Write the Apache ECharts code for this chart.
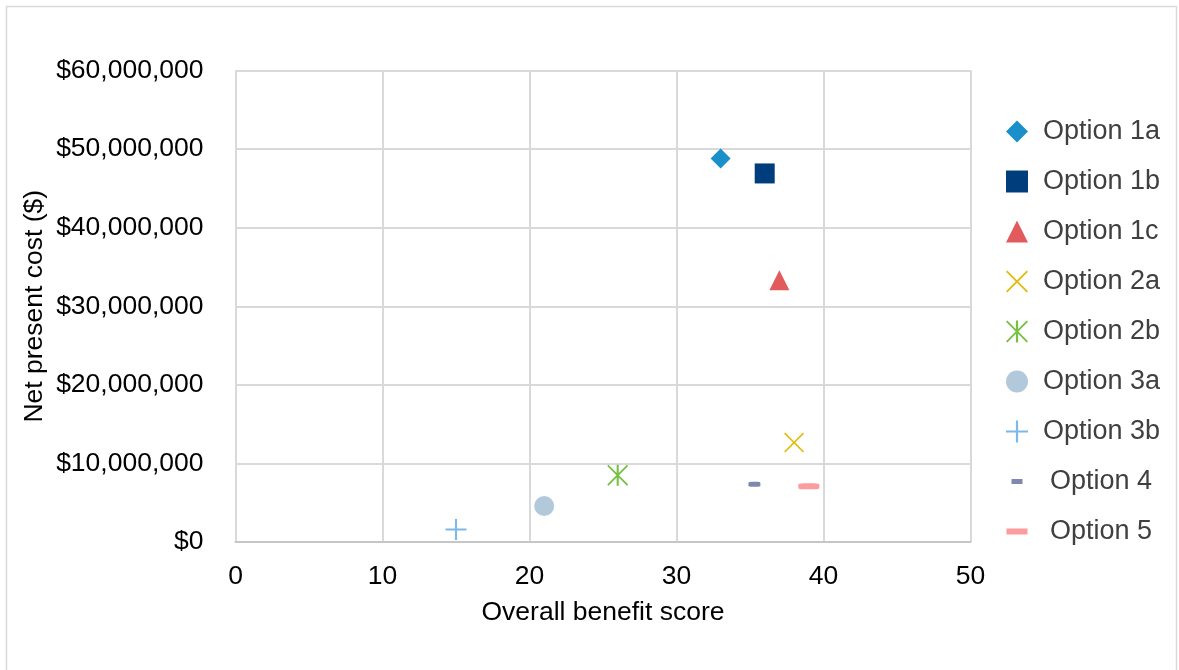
<!DOCTYPE html>
<html>
<head>
<meta charset="utf-8">
<script src="https://cdn.jsdelivr.net/npm/echarts@6/dist/echarts.min.js"></script>
<style>
  html, body { margin: 0; padding: 0; background: #fff; }
  #chart { width: 1179px; height: 670px; }
</style>
</head>
<body>
<div id="chart"></div>
<script>
// ---- Data ----
const seriesNames = ['Option 1a', 'Option 1b', 'Option 1c', 'Option 2a', 'Option 2b', 'Option 3a', 'Option 3b', 'Option 4', 'Option 5'];
const benefitScores = [33, 36, 37, 38, 26, 21, 15, 35.3, 39];
const netPresentCosts = [48800000, 46900000, 33300000, 12650000, 8500000, 4580000, 1600000, 7350000, 7100000];
const xTicks = [0, 10, 20, 30, 40, 50];
const yTicks = [0, 10000000, 20000000, 30000000, 40000000, 50000000, 60000000];

// ---- Styles ----
const colors = ['#1a8fca', '#003d7c', '#e35a5c', '#e0bd0c', '#76c043', '#b2c9dc', '#7cb9e8', '#7f88ad', '#fd9b9e'];
const PATH_X = 'path://M0,6 L6,0 L50,44 L94,0 L100,6 L56,50 L100,94 L94,100 L50,56 L6,100 L0,94 L44,50 Z';
const PATH_AST = 'path://M0,6 L6,0 L50,44 L94,0 L100,6 L56,50 L100,94 L94,100 L50,56 L6,100 L0,94 L44,50 Z M45,0 L55,0 L55,100 L45,100 Z';
const PATH_PLUS = 'path://M45,0 L55,0 L55,45 L100,45 L100,55 L55,55 L55,100 L45,100 L45,55 L0,55 L0,45 L45,45 Z';
const symbols = ['diamond', 'rect', 'triangle', PATH_X, PATH_AST, 'circle', PATH_PLUS, 'roundRect', 'roundRect'];
const sizes = [20, 20, 20, 20, 21, 20, 21, [12, 5], [21, 6]];
const legendIcons = [null, null, null, null, null, null, null,
  'path://M0,0 M22,22 M5.5,8.5 L16.5,8.5 L16.5,13.5 L5.5,13.5 Z',
  'path://M0,0 M22,22 M0.5,8 L21.5,8 L21.5,14 L0.5,14 Z'];
const legendTextShift = [10, 10, 10, 10, 10, 10, 10, 17, 17];

const FONT = '"Liberation Sans", Arial, sans-serif';

const series = seriesNames.map((name, i) => ({
  name: name,
  type: 'scatter',
  symbol: symbols[i],
  symbolSize: sizes[i],
  symbolKeepAspect: false,
  itemStyle: { color: colors[i], opacity: 1 },
  emphasis: { disabled: true },
  data: [[benefitScores[i], netPresentCosts[i]]]
}));

const chart = echarts.init(document.getElementById('chart'), null, { renderer: 'canvas' });
chart.setOption({
  animation: false,
  backgroundColor: '#ffffff',
  textStyle: { fontFamily: FONT },
  graphic: [{
    type: 'rect',
    shape: { x: 6.5, y: 6.5, width: 1170, height: 700 },
    style: { fill: 'none', stroke: '#d9d9d9', lineWidth: 1.5 },
    silent: true
  }],
  grid: { left: 235.5, right: 208.5, top: 70.5, bottom: 128 },
  xAxis: {
    type: 'value',
    min: xTicks[0],
    max: xTicks[xTicks.length - 1],
    interval: xTicks[1] - xTicks[0],
    name: 'Overall benefit score',
    nameLocation: 'middle',
    nameGap: 57,
    nameMoveOverlap: false,
    nameTextStyle: { fontSize: 26.5, color: '#000000', fontFamily: FONT },
    axisLine: { show: true, lineStyle: { color: '#c6c6c6', width: 2 } },
    axisTick: { show: false },
    axisLabel: { fontSize: 26.5, color: '#000000', margin: 21, fontFamily: FONT },
    splitLine: { show: true, lineStyle: { color: '#d9d9d9', width: 2 } }
  },
  yAxis: {
    type: 'value',
    min: yTicks[0],
    max: yTicks[yTicks.length - 1],
    interval: yTicks[1] - yTicks[0],
    name: 'Net present cost ($)',
    nameLocation: 'middle',
    nameGap: 187,
    nameMoveOverlap: false,
    nameTextStyle: { fontSize: 26.5, color: '#000000', fontFamily: FONT },
    axisLine: { show: false },
    axisTick: { show: false },
    axisLabel: {
      fontSize: 26.5, color: '#000000', margin: 32, fontFamily: FONT,
      formatter: v => '$' + Number(v).toLocaleString('en-US')
    },
    splitLine: { show: true, lineStyle: { color: '#d9d9d9', width: 2 } }
  },
  legend: {
    orient: 'vertical',
    left: 1001,
    top: 113,
    itemWidth: 22,
    itemHeight: 22,
    itemGap: 23,
    selectedMode: false,
    textStyle: { fontSize: 27, color: '#404040', fontFamily: FONT, lineHeight: 22, padding: [0, 0, 0, 10] },
    data: seriesNames.map((n, i) => {
      const item = { name: n, textStyle: { padding: [0, 0, 0, legendTextShift[i]] } };
      if (legendIcons[i]) item.icon = legendIcons[i];
      return item;
    })
  },
  series: series
});
</script>
</body>
</html>
